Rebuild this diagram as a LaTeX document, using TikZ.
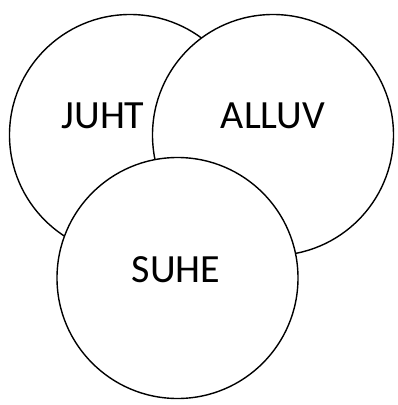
\documentclass[tikz,border=0pt]{standalone}
\usepackage{fontspec}
\setmainfont{Carlito}
\begin{document}
\begin{tikzpicture}[x=1pt,y=1pt,
  ring/.style={circle,draw=black,fill=white,line width=1.4pt,minimum size=241pt,inner sep=0pt},
  lbl/.style={font=\fontsize{40}{44}\selectfont,inner sep=0pt,anchor=center}]
\useasboundingbox (0,0) rectangle (398,-405);
\node[ring] (juht) at (130,-135) {};
\node[ring] (alluv) at (273,-135) {};
\node[ring] (suhe) at (177.5,-278) {};
\node[lbl] (tj) at (103,-116) {JUHT};
\node[lbl] (ta) at (273,-116) {ALLUV};
\node[lbl] (ts) at (176,-270) {SUHE};
\end{tikzpicture}
\end{document}
